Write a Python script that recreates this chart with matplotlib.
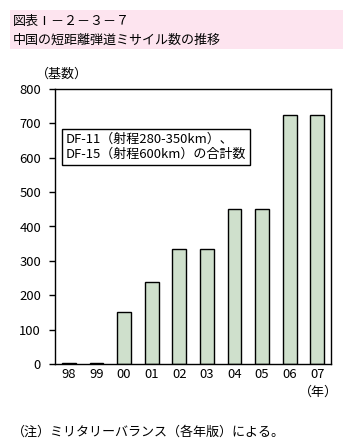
import matplotlib
matplotlib.use('Agg')
import matplotlib.pyplot as plt
from matplotlib.patches import Rectangle

plt.rcParams['font.family'] = ['Noto Sans CJK JP', 'DejaVu Sans']

years = ['98', '99', '00', '01', '02', '03', '04', '05', '06', '07']
missiles = [3, 3, 150, 240, 335, 335, 450, 450, 725, 725]
yticks = [0, 100, 200, 300, 400, 500, 600, 700, 800]

W, H = 353, 448
fs = 9.4
fig = plt.figure(figsize=(W / 100, H / 100), dpi=100)

# pink title banner
fig.patches.append(Rectangle((10 / W, 1 - 49 / H), 333 / W, 39 / H,
                             transform=fig.transFigure, facecolor='#fde4ef',
                             edgecolor='none'))
fig.text(13 / W, 1 - 21 / H, '図表Ⅰ－２－３－７', fontsize=fs, va='center')
fig.text(13 / W, 1 - 40 / H, '中国の短距離弾道ミサイル数の推移', fontsize=fs, va='center')

ax = fig.add_axes([55 / W, 1 - 364 / H, 276 / W, 275 / H])
x = range(len(years))
ax.bar(x, missiles, width=0.5, color='#cfe0cc', edgecolor='black', linewidth=1)
ax.set_xlim(-0.5, len(years) - 0.5)
ax.set_ylim(0, 800)
ax.set_yticks(yticks)
ax.set_xticks(list(x))
ax.set_xticklabels(years)
ax.tick_params(axis='y', direction='out', length=4, width=1, labelsize=fs, pad=6)
ax.tick_params(axis='x', length=0, labelsize=fs, pad=3)
for s in ax.spines.values():
    s.set_linewidth(1)

ax.text(0.04, 0.79,
        'DF-11（射程280-350km）、\nDF-15（射程600km）の合計数',
        transform=ax.transAxes, fontsize=fs, va='center', ha='left',
        linespacing=1.25,
        bbox=dict(boxstyle='square,pad=0.3', facecolor='white',
                  edgecolor='black', linewidth=1))

fig.text(36 / W, 1 - 74 / H, '（基数）', fontsize=fs, va='center')
fig.text(318 / W, 1 - 392 / H, '（年）', fontsize=fs, va='center', ha='center')
fig.text(12 / W, 1 - 432 / H, '（注）ミリタリーバランス（各年版）による。',
         fontsize=fs, va='center')

fig.savefig('out.png', dpi=100)
